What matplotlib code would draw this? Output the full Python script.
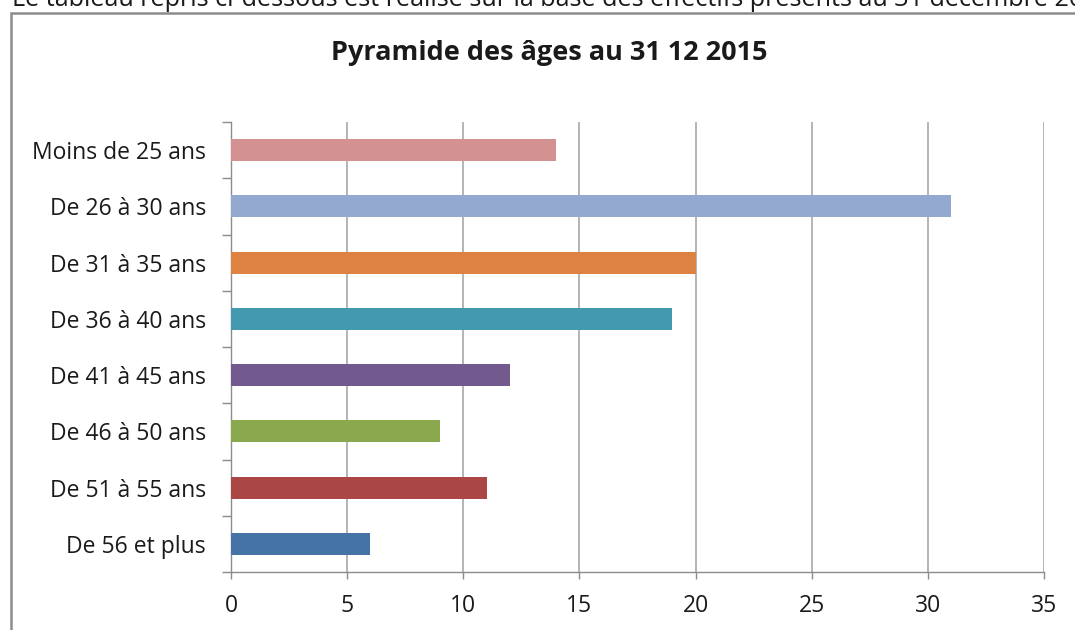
import matplotlib.pyplot as plt
from matplotlib.patches import Rectangle
import numpy as np

# data (top to bottom)
categories = ['Moins de 25 ans', 'De 26 à 30 ans', 'De 31 à 35 ans', 'De 36 à 40 ans',
              'De 41 à 45 ans', 'De 46 à 50 ans', 'De 51 à 55 ans', 'De 56 et plus']
values = [14, 31, 20, 19, 12, 9, 11, 6]
colors = ['#D39191', '#94A9D0', '#DD8240', '#4299B0',
          '#725A8E', '#8AA84D', '#AA4744', '#4572A7']
x_ticks = [0, 5, 10, 15, 20, 25, 30, 35]

plt.rcParams['font.family'] = ['Open Sans', 'DejaVu Sans']

fig = plt.figure(figsize=(10.75, 6.3), dpi=100)
ax = fig.add_axes([231/1075, 1 - 572/630, (1044 - 231)/1075, (572 - 122)/630])

y = np.arange(len(categories))
ax.barh(y, values, height=0.39, color=colors, zorder=3)
ax.set_ylim(len(categories) - 0.5, -0.5)
ax.set_xlim(0, 35)

ax.set_yticks(y)
ax.set_yticklabels(categories, fontsize=16.5, color='#1a1a1a')
ax.tick_params(axis='y', which='major', length=0, pad=18)
ax.set_yticks(np.arange(-0.5, len(categories)), minor=True)
ax.tick_params(axis='y', which='minor', length=6.5, color='#8c8c8c', width=1)

ax.set_xticks(x_ticks)
ax.set_xticklabels([str(t) for t in x_ticks], fontsize=16.5, color='#1a1a1a')
ax.tick_params(axis='x', length=5, color='#8c8c8c', width=1, pad=11)

ax.grid(axis='x', color='#a0a0a0', linewidth=1.1, zorder=0)
for s in ['top', 'right']:
    ax.spines[s].set_visible(False)
for s in ['left', 'bottom']:
    ax.spines[s].set_color('#8c8c8c')
    ax.spines[s].set_linewidth(1)

fig.text(549/1075, 1 - 53/630, 'Pyramide des âges au 31 12 2015', ha='center', va='center',
         fontsize=19.5, fontweight='bold', color='#1a1a1a')

# line of text above the chart, cut by the top edge as in the source
fig.text(12/1075, 1 - 6/630,
         'Le tableau repris ci-dessous est réalisé sur la base des effectifs présents au 31 décembre 2015',
         ha='left', va='baseline', fontsize=18.1, color='#1a1a1a')

# chart border
fig.add_artist(Rectangle((11/1075, -0.1), 1.2, 1 - 13/630 + 0.1, transform=fig.transFigure,
                         fill=False, edgecolor='#8c8c8c', linewidth=1.8, clip_on=False))

fig.savefig('out.png', dpi=100)
